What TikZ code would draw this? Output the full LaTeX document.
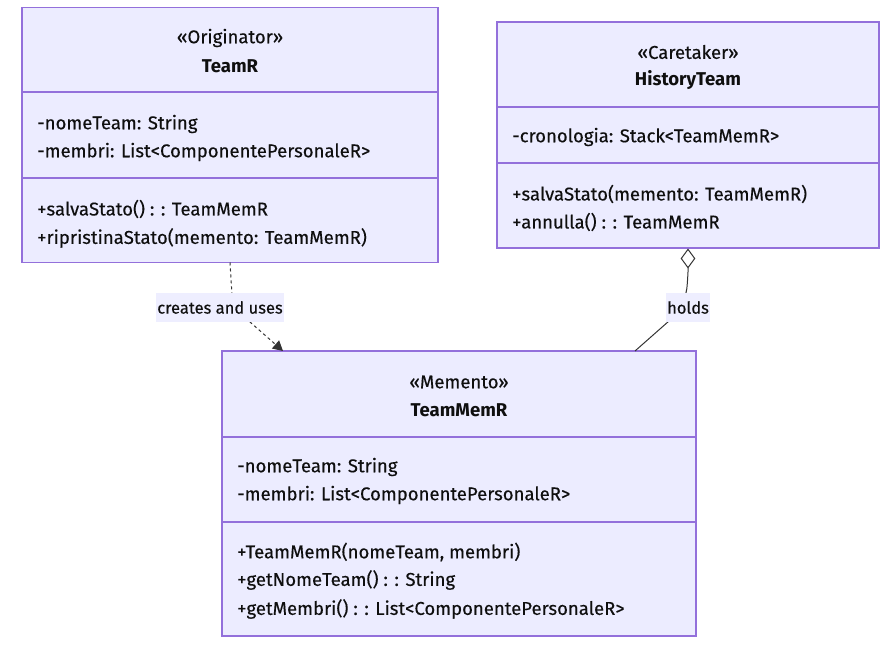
\documentclass[tikz,border=0pt]{standalone}
\usepackage{fontspec}
\setmainfont{Fira Sans}
\usetikzlibrary{arrows.meta}
\definecolor{umlfill}{RGB}{236,236,255}
\definecolor{umlline}{RGB}{147,112,219}
\definecolor{lblfill}{RGB}{238,238,255}
\definecolor{edge}{RGB}{51,51,51}
\definecolor{txt}{RGB}{15,15,15}
\tikzset{
  umlbox/.style={draw=umlline, fill=umlfill, line width=0.9pt, rectangle, inner sep=0pt},
  divider/.style={draw=umlline, line width=0.9pt},
  member/.style={anchor=west, inner sep=0pt, font=\fontsize{13.9pt}{15pt}\selectfont\addfontfeature{FakeBold=0.3}, text=txt},
  stereo/.style={inner sep=0pt, font=\fontsize{13.9pt}{15pt}\selectfont\addfontfeature{FakeBold=0.3}, text=txt},
  cname/.style={inner sep=0pt, font=\fontsize{13.9pt}{15pt}\selectfont\bfseries, text=txt},
  elabel/.style={fill=lblfill, inner xsep=1pt, inner ysep=0pt, minimum height=29*0.75pt, font=\fontsize{12.4pt}{14pt}\selectfont\addfontfeature{FakeBold=0.3}, text=txt},
  rel/.style={draw=edge, line width=0.75pt},
}
\begin{document}
\begin{tikzpicture}[x=0.75pt,y=-0.75pt]
\useasboundingbox (0,0) rectangle (894,650);
% TeamR
\node[umlbox, minimum width=416*0.75pt, minimum height=255*0.75pt] (teamr) at (230,135) {};
\draw[divider] (22,92) -- (438,92);
\draw[divider] (22,178) -- (438,178);
\node[stereo] (teamrS) at (230,38) {«Originator»};
\node[cname] (teamrN) at (230,66) {TeamR};
\node[member] (teamrA1) at (37,124) {-nomeTeam: String};
\node[member] (teamrA2) at (37,152) {-membri: List<ComponentePersonaleR>};
\node[member] (teamrM1) at (37,209) {+salvaStato() : : TeamMemR};
\node[member] (teamrM2) at (37,238) {+ripristinaStato(memento: TeamMemR)};
% HistoryTeam
\node[umlbox, minimum width=382*0.75pt, minimum height=226*0.75pt] (hist) at (688,135) {};
\draw[divider] (497,107) -- (879,107);
\draw[divider] (497,163) -- (879,163);
\node[stereo] (histS) at (688,52) {«Caretaker»};
\node[cname] (histN) at (688,80) {HistoryTeam};
\node[member] (histA1) at (512,137) {-cronologia: Stack<TeamMemR>};
\node[member] (histM1) at (512,194) {+salvaStato(memento: TeamMemR)};
\node[member] (histM2) at (512,222) {+annulla() : : TeamMemR};
% TeamMemR
\node[umlbox, minimum width=474*0.75pt, minimum height=285*0.75pt] (mem) at (459,493.5) {};
\draw[divider] (222,437) -- (696,437);
\draw[divider] (222,522) -- (696,522);
\node[stereo] (memS) at (459,382) {«Memento»};
\node[cname] (memN) at (459,410) {TeamMemR};
\node[member] (memA1) at (237,467) {-nomeTeam: String};
\node[member] (memA2) at (237,495) {-membri: List<ComponentePersonaleR>};
\node[member] (memM1) at (237,552) {+TeamMemR(nomeTeam, membri)};
\node[member] (memM2) at (237,580) {+getNomeTeam() : : String};
\node[member] (memM3) at (237,609) {+getMembri() : : List<ComponentePersonaleR>};
% connector coordinates
\coordinate (c1s) at (230,262.5);
\coordinate (c1t) at (283,351);
\coordinate (c2s) at (688,248.5);
\coordinate (c2t) at (635,351);
% creates and uses
\draw[rel, dash pattern=on 2.25pt off 2.25pt, -{Triangle[length=7.5pt,width=8pt]}]
  (c1s) -- (232,295) .. controls (235,310) .. (250,322) -- (c1t);
\node[elabel] (lab1) at (220,307.5) {creates and uses};
% holds
\draw[rel, {Diamond[open,length=15pt,width=11pt,line width=0.75pt]}-]
  (c2s) -- (688,272) .. controls (687,290) .. (684,300) -- (669,321) -- (c2t);
\node[elabel] (lab2) at (688,307.5) {holds};
\end{tikzpicture}
\end{document}
